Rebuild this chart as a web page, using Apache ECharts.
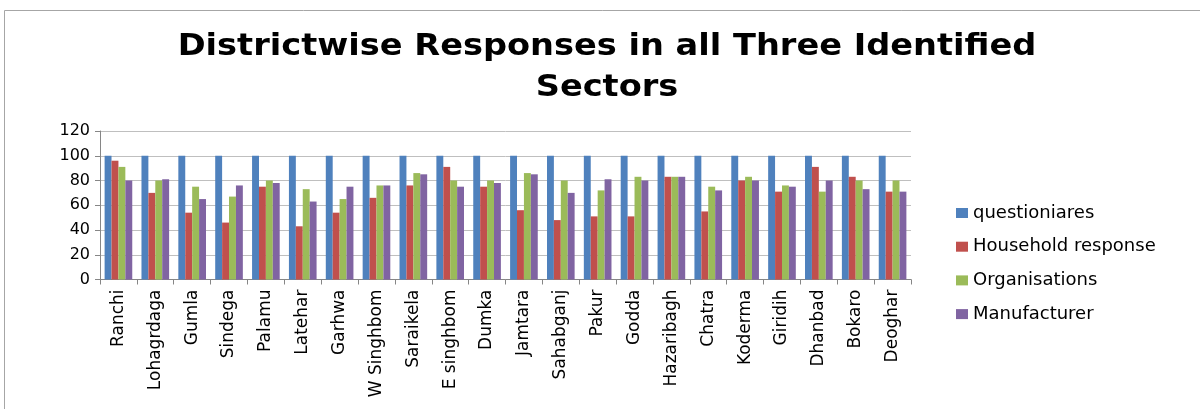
<!DOCTYPE html>
<html>
<head>
<meta charset="utf-8">
<script src="https://cdn.jsdelivr.net/npm/echarts@6/dist/echarts.min.js"></script>
<style>
  html, body { margin: 0; padding: 0; background: #fff; }
  #chart { width: 1200px; height: 409px; }
</style>
</head>
<body>
<div id="chart"></div>
<script>
// Districts of Jharkhand surveyed
const districts = ['Ranchi', 'Lohagrdaga', 'Gumla', 'Sindega', 'Palamu', 'Latehar', 'Garhwa',
  'W Singhbom', 'Saraikela', 'E singhbom', 'Dumka', 'Jamtara', 'Sahabganj', 'Pakur', 'Godda',
  'Hazaribagh', 'Chatra', 'Koderma', 'Giridih', 'Dhanbad', 'Bokaro', 'Deoghar'];

// Response counts per district for each sector
const questioniares = [100, 100, 100, 100, 100, 100, 100, 100, 100, 100, 100,
  100, 100, 100, 100, 100, 100, 100, 100, 100, 100, 100];
const household = [96, 70, 54, 46, 75, 43, 54, 66, 76, 91, 75,
  56, 48, 51, 51, 83, 55, 80, 71, 91, 83, 71];
const organisations = [91, 80, 75, 67, 80, 73, 65, 76, 86, 80, 80,
  86, 80, 72, 83, 83, 75, 83, 76, 71, 80, 80];
const manufacturer = [80, 81, 65, 76, 78, 63, 75, 76, 85, 75, 78,
  85, 70, 81, 80, 83, 72, 80, 75, 80, 73, 71];

const titleLines = ['Districtwise Responses in all Three Identified', 'Sectors'];
const yTicks = { min: 0, max: 120, interval: 20 };

const seriesDefs = [
  { name: 'questioniares', data: questioniares, color: '#4F81BD' },
  { name: 'Household response', data: household, color: '#C0504D' },
  { name: 'Organisations', data: organisations, color: '#9BBB59' },
  { name: 'Manufacturer', data: manufacturer, color: '#8064A2' }
];

// Bold two-line heading, slightly widened about its centre
const titleFont = { fontFamily: 'DejaVu Sans', fontWeight: 'bold', fontSize: 30, fill: '#000' };
const titleGroup = {
  type: 'group',
  x: 607,
  y: 0,
  scaleX: 1.12,
  silent: true,
  children: titleLines.map((t, i) => ({
    type: 'text',
    style: Object.assign({ text: t, x: 0, y: 47 + i * 41, align: 'center', verticalAlign: 'middle' }, titleFont)
  }))
};

const chart = echarts.init(document.getElementById('chart'));
chart.setOption({
  animation: false,
  backgroundColor: '#fff',
  graphic: [{
    type: 'rect',
    shape: { x: 4.5, y: 10.5, width: 1210, height: 420 },
    style: { fill: 'none', stroke: '#a6a6a6', lineWidth: 1 },
    silent: true
  }, titleGroup],
  legend: {
    orient: 'vertical',
    left: 951,
    top: 199,
    itemWidth: 12,
    itemHeight: 10,
    itemGap: 15.7,
    icon: 'rect',
    textStyle: { fontFamily: 'DejaVu Sans', fontSize: 18, color: '#000', padding: [0, 0, 0, 0] }
  },
  grid: { left: 100, right: 289, top: 131, bottom: 129.5, containLabel: false },
  xAxis: {
    type: 'category',
    data: districts,
    axisLine: { lineStyle: { color: '#868686' } },
    axisTick: { show: true, length: 5, lineStyle: { color: '#868686' } },
    axisLabel: {
      rotate: 90,
      interval: 0,
      margin: 10,
      fontFamily: 'DejaVu Sans',
      fontSize: 17,
      color: '#000'
    }
  },
  yAxis: {
    type: 'value',
    min: yTicks.min,
    max: yTicks.max,
    interval: yTicks.interval,
    axisLine: { show: true, lineStyle: { color: '#868686' } },
    axisTick: { show: true, length: 5, lineStyle: { color: '#868686' } },
    axisLabel: { fontFamily: 'DejaVu Sans', fontSize: 16, color: '#000', margin: 10 },
    splitLine: { lineStyle: { color: '#bfbfbf' } }
  },
  series: seriesDefs.map(s => ({
    name: s.name,
    type: 'bar',
    data: s.data,
    barGap: '0%',
    barCategoryGap: '25%',
    itemStyle: { color: s.color }
  }))
});
</script>
</body>
</html>
